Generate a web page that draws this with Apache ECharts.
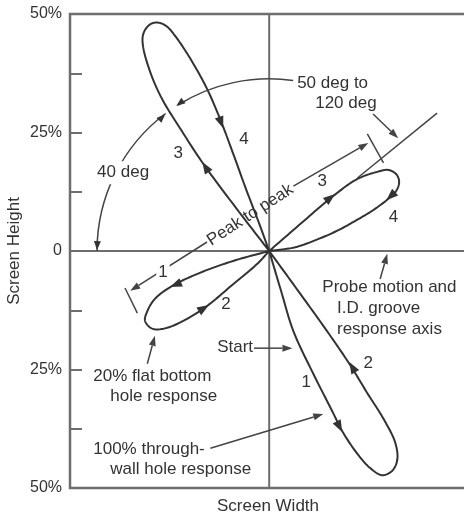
<!DOCTYPE html>
<html>
<head>
<meta charset="utf-8">
<script src="https://cdn.jsdelivr.net/npm/echarts@6/dist/echarts.min.js"></script>
<style>
html, body { margin: 0; padding: 0; background: #fff; }
#chart { width: 464px; height: 512px; }
</style>
</head>
<body>
<div id="chart"></div>
<script>
// screen coordinates in percent of screen height (same scale on both axes)
var xRange = [-42, 41.5];
var yRange = [-50, 50];
var yLabelValues = [-50, -25, 0, 25, 50];
var yLabelTexts = ['50%', '25%', '0', '25%', '50%'];

// signal loops
var throughWall = [[0,0],[-7.0,9.1],[-13.9,18.4],[-18.8,25.9],[-22.6,32.1],[-25.1,37.8],[-26.6,43.2],[-26.6,45.6],[-25.7,47.3],[-24.5,48.1],[-23.0,48.1],[-21.5,47.3],[-20.0,45.6],[-16.7,40.7],[-13.1,34.2],[-10.1,27.2],[-7.4,20.0],[-4.9,13.1],[-2.3,6.3],[0,0]];
var flatBottom = [[0,0],[6.8,5.9],[13.5,11.6],[18.6,15.2],[22.8,16.7],[25.1,17.1],[26.8,16.2],[27.4,14.6],[26.8,12.7],[25.1,11.0],[21.9,8.6],[18.4,6.5],[14.6,4.4],[10.3,2.5],[5.5,0.8],[0,0]];
var flatBottomStart = [[0,0],[-7.6,-2.1],[-14.6,-4.6],[-20.5,-7.4],[-24.1,-10.1],[-25.7,-12.7],[-26.2,-14.6],[-25.5,-15.8],[-24.3,-16.5],[-21.5,-16.2],[-17.3,-14.3],[-13.1,-11.6],[-7.6,-7.0],[-2.5,-2.7],[0,0]];
var throughWallStart = [[0,0],[2.5,-8.4],[5.1,-16.9],[9.3,-25.9],[13.3,-33.8],[15.4,-38.0],[18.6,-42.8],[21.3,-45.8],[23.8,-47.3],[25.9,-46.4],[27.0,-44.1],[26.6,-40.5],[24.1,-35.4],[20.7,-30.0],[17.1,-24.1],[12.2,-16.9],[6.1,-8.4],[0,0]];

// arrow heads [tailX, tailY, tipX, tipY]
var loopArrows = [
  [-12.9,16.9,-14.1,18.8], [-10.5,28.1,-9.7,25.9],
  [12.0,10.5,13.9,12.0], [25.9,11.8,24.7,10.7],
  [-19.0,-6.8,-20.9,-7.6], [-14.3,-12.4,-12.7,-11.4],
  [14.3,-36.1,15.4,-38.2], [18.1,-25.5,16.9,-23.4]
];
var arcArrows = [[-36.2,2.5,-36.3,0.2], [-23.4,27.4,-21.9,28.9], [-17.9,31.9,-19.6,30.6]];

// leader lines ending in an arrow [x1, y1, x2, y2]
var pointers = [
  [-3.2,-20.5,4.9,-20.5],
  [-12.4,-41.6,11.4,-34.4],
  [-25.7,-23.8,-24.1,-17.9],
  [23.4,-5.9,24.9,-0.6],
  [21.9,28.9,27.2,23.8],
  [5.1,13.7,20.9,22.8],
  [-13.1,1.9,-29.3,-8.4]
];
var guides = [
  [18.6,15.4,35.4,29.1],
  [20.7,24.7,24.1,18.6],
  [-30.4,-7.8,-27.8,-13.1]
];
var crossLines = [[0,-50,0,50], [-42,0,41.5,0]];

// angle arcs around the origin [cx, cy, r, fromDeg, toDeg]
var arcs = [[0,0,36.3,127,180], [0,0,36.3,82,122]];

// text [x, y, text, align, rotateDeg, whiteBack]
var notes = [
  [5.9,35.4,'50 deg to','left',0,0],
  [9.7,31.2,'120 deg','left',0,0],
  [-30.8,16.5,'40 deg','center',0,1],
  [-19.2,20.7,'3','center',0,0],
  [-5.3,23.6,'4','center',0,0],
  [11.2,14.6,'3','center',0,0],
  [26.2,7.2,'4','center',0,0],
  [-22.4,-4.4,'1','center',0,1],
  [-9.1,-11.2,'2','center',0,0],
  [7.8,-27.8,'1','center',0,0],
  [20.9,-23.6,'2','center',0,0],
  [-4.0,7.6,'Peak to peak','center',33,0],
  [11.2,-7.6,'Probe motion and','left',0,0],
  [14.3,-12.0,'I.D. groove','left',0,0],
  [14.3,-16.5,'response axis','left',0,0],
  [-3.4,-20.3,'Start','right',0,0],
  [-37.1,-26.4,'20% flat bottom','left',0,0],
  [-33.5,-30.6,'hole response','left',0,0],
  [-37.1,-41.8,'100% through-','left',0,0],
  [-33.5,-46.0,'wall hole response','left',0,0]
];

var ink = '#333';
var frame = '#6e6e6e';
var font = '17px "Liberation Sans", Arial, sans-serif';

var myChart = echarts.init(document.getElementById('chart'));

function head(p, q, len, half) {
  var dx = q[0] - p[0], dy = q[1] - p[1];
  var l = Math.sqrt(dx * dx + dy * dy) || 1;
  var ux = dx / l, uy = dy / l;
  var bx = q[0] - ux * len, by = q[1] - uy * len;
  return [[q[0], q[1]], [bx - uy * half, by + ux * half], [bx + uy * half, by - ux * half]];
}

// centripetal catmull-rom through the read points, done in pixels
function spline(pts) {
  var out = [];
  var n = pts.length;
  function pt(i) { return pts[Math.max(0, Math.min(n - 1, i))]; }
  function tj(ti, a, b) {
    var d = Math.sqrt((b[0] - a[0]) * (b[0] - a[0]) + (b[1] - a[1]) * (b[1] - a[1]));
    return ti + Math.max(Math.sqrt(d), 1e-3);
  }
  for (var i = 0; i < n - 1; i++) {
    var p0 = pt(i - 1), p1 = pt(i), p2 = pt(i + 1), p3 = pt(i + 2);
    if (i === 0) p0 = [2 * p1[0] - p2[0], 2 * p1[1] - p2[1]];
    if (i === n - 2) p3 = [2 * p2[0] - p1[0], 2 * p2[1] - p1[1]];
    var t0 = 0, t1 = tj(t0, p0, p1), t2 = tj(t1, p1, p2), t3 = tj(t2, p2, p3);
    for (var s = 0; s < 12; s++) {
      var t = t1 + (t2 - t1) * s / 12;
      var xy = [0, 0];
      for (var k = 0; k < 2; k++) {
        var a1 = (t1 - t) / (t1 - t0) * p0[k] + (t - t0) / (t1 - t0) * p1[k];
        var a2 = (t2 - t) / (t2 - t1) * p1[k] + (t - t1) / (t2 - t1) * p2[k];
        var a3 = (t3 - t) / (t3 - t2) * p2[k] + (t - t2) / (t3 - t2) * p3[k];
        var b1 = (t2 - t) / (t2 - t0) * a1 + (t - t0) / (t2 - t0) * a2;
        var b2 = (t3 - t) / (t3 - t1) * a2 + (t - t1) / (t3 - t1) * a3;
        xy[k] = (t2 - t) / (t2 - t1) * b1 + (t - t1) / (t2 - t1) * b2;
      }
      out.push(xy);
    }
  }
  out.push(pts[n - 1]);
  return out;
}

function loopSeries(data) {
  return {
    type: 'custom',
    data: data,
    encode: { x: 0, y: 1 },
    silent: true,
    renderItem: function (params, api) {
      if (params.dataIndex !== 0) return;
      var px = data.map(function (d) { return api.coord(d); });
      return { type: 'polyline', shape: { points: spline(px) }, style: { stroke: ink, fill: 'none', lineWidth: 2, lineJoin: 'round' } };
    }
  };
}

function segSeries(data, color, width, arrow) {
  return {
    type: 'custom',
    data: data,
    encode: { x: [0, 2], y: [1, 3] },
    silent: true,
    renderItem: function (params, api) {
      var p = api.coord([api.value(0), api.value(1)]);
      var q = api.coord([api.value(2), api.value(3)]);
      if (!arrow) {
        return { type: 'line', shape: { x1: p[0], y1: p[1], x2: q[0], y2: q[1] }, style: { stroke: color, lineWidth: width } };
      }
      var h = head(p, q, 10, 3.5);
      return {
        type: 'group',
        children: [
          { type: 'line', shape: { x1: p[0], y1: p[1], x2: (h[1][0] + h[2][0]) / 2, y2: (h[1][1] + h[2][1]) / 2 }, style: { stroke: color, lineWidth: width } },
          { type: 'polygon', shape: { points: h }, style: { fill: color } }
        ]
      };
    }
  };
}

function headSeries(data, len, half) {
  return {
    type: 'custom',
    data: data,
    encode: { x: [0, 2], y: [1, 3] },
    silent: true,
    z: 5,
    renderItem: function (params, api) {
      var p = api.coord([api.value(0), api.value(1)]);
      var q = api.coord([api.value(2), api.value(3)]);
      return { type: 'polygon', shape: { points: head(p, q, len, half) }, style: { fill: ink } };
    }
  };
}

option = {
  backgroundColor: '#fff',
  animation: false,
  grid: {
    left: 70, top: 14, width: 396, height: 474,
    outerBoundsMode: 'none', containLabel: false,
    show: true, borderColor: frame, borderWidth: 2.5, backgroundColor: 'transparent'
  },
  xAxis: {
    type: 'value',
    min: xRange[0],
    max: xRange[1],
    name: 'Screen Width',
    nameLocation: 'middle',
    nameGap: 10,
    nameMoveOverlap: false,
    nameTextStyle: { fontSize: 17, color: '#333', fontFamily: 'Liberation Sans' },
    axisLine: { show: false, onZero: false },
    axisTick: { show: false },
    axisLabel: { show: false },
    splitLine: { show: false }
  },
  yAxis: {
    type: 'value',
    min: yRange[0],
    max: yRange[1],
    interval: 12.5,
    name: 'Screen Height',
    nameLocation: 'middle',
    nameGap: 47,
    nameMoveOverlap: false,
    nameTextStyle: { fontSize: 17, color: '#333', fontFamily: 'Liberation Sans' },
    axisLine: { show: false, onZero: false },
    axisTick: { show: true, inside: true, length: 12, lineStyle: { color: frame, width: 2 } },
    axisLabel: {
      margin: 8,
      fontSize: 16,
      color: '#333',
      fontFamily: 'Liberation Sans',
      formatter: function (v) {
        var i = yLabelValues.indexOf(v);
        return i < 0 ? '' : yLabelTexts[i];
      }
    },
    splitLine: { show: false }
  },
  series: [
    segSeries(crossLines, frame, 2, false),
    loopSeries(throughWall),
    loopSeries(flatBottom),
    loopSeries(flatBottomStart),
    loopSeries(throughWallStart),
    headSeries(loopArrows, 12, 4.5),
    headSeries(arcArrows, 9, 3.5),
    segSeries(pointers, '#444', 1.5, true),
    segSeries(guides, '#444', 1.5, false),
    {
      type: 'custom',
      data: arcs,
      encode: { x: 0, y: 1 },
      silent: true,
      renderItem: function (params, api) {
        var c = api.coord([api.value(0), api.value(1)]);
        var r = api.size([api.value(2), 0])[0];
        return {
          type: 'arc',
          shape: { cx: c[0], cy: c[1], r: r, startAngle: -api.value(4) * Math.PI / 180, endAngle: -api.value(3) * Math.PI / 180, clockwise: true },
          style: { stroke: '#444', fill: 'none', lineWidth: 1.5 }
        };
      }
    },
    {
      type: 'custom',
      data: notes.map(function (n) { return [n[0], n[1]]; }),
      encode: { x: 0, y: 1 },
      silent: true,
      z: 10,
      renderItem: function (params, api) {
        var n = notes[params.dataIndex];
        var p = api.coord([api.value(0), api.value(1)]);
        return {
          type: 'text',
          x: p[0],
          y: p[1],
          rotation: n[4] * Math.PI / 180,
          style: {
            text: n[2],
            font: font,
            fill: '#333',
            align: n[3],
            verticalAlign: 'middle',
            backgroundColor: n[5] ? '#fff' : null,
            padding: n[5] ? [3, 2] : 0
          }
        };
      }
    }
  ]
};

myChart.setOption(option);
</script>
</body>
</html>
